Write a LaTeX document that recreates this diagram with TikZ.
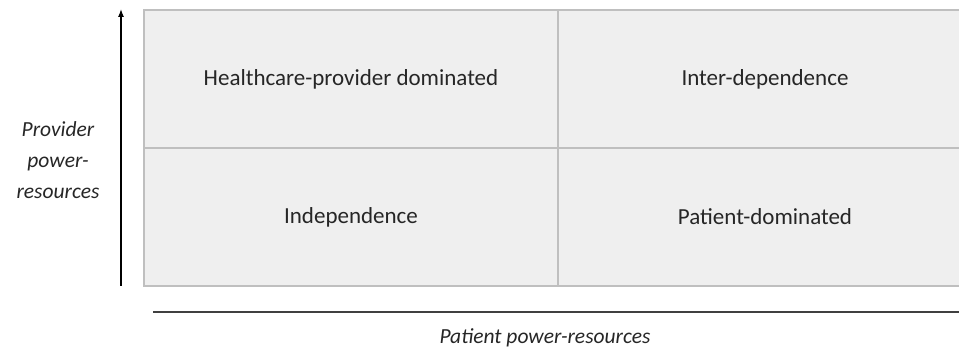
\documentclass[tikz,border=0pt]{standalone}
\usepackage{fontspec}
\setmainfont{Carlito}
\usetikzlibrary{arrows.meta}
\definecolor{cellfill}{HTML}{EFEFEF}
\definecolor{cellline}{HTML}{BFBFBF}
\definecolor{axisline}{HTML}{404040}
\begin{document}
\begin{tikzpicture}[x=1pt,y=-1pt,
  cell/.style={draw=cellline,line width=1.5pt,fill=cellfill,minimum width=414pt,minimum height=138pt,inner sep=0pt,font=\fontsize{23}{27}\selectfont,text=black!85},
  axislabel/.style={font=\itshape\fontsize{21.5}{31}\selectfont,text=black!85,align=center}]
\useasboundingbox (0,0) rectangle (959,352);
\begin{scope}
\clip (0,0) rectangle (959,352);
\node[cell] (hp) at (351,79) {Healthcare-provider dominated};
\node[cell] (id) at (765,79) {Inter-dependence};
\node[cell] (ind) at (351,217) {Independence};
\node[cell] (pd) at (765,217) {Patient-dominated};
\end{scope}
\coordinate (ybot) at (121,286);
\coordinate (ytop) at (121,9);
\draw[line width=1.3pt,-{Latex[length=8pt,width=6pt]}] (ybot) -- (ytop);
\coordinate (xl) at (153,312);
\coordinate (xr) at (960,312);
\draw[axisline,line width=1.5pt] (xl) -- (xr);
\node[axislabel] (yl) at (58,160) {Provider\\power-\\resources};
\node[axislabel] (xlab) at (545,338) {Patient power-resources};
\end{tikzpicture}
\end{document}
